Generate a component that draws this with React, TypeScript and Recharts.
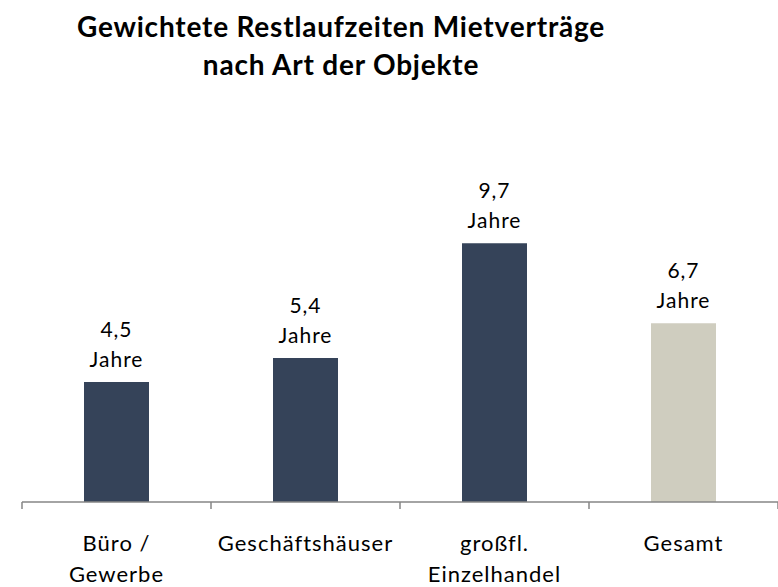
import { BarChart, Bar, XAxis, YAxis, Cell, LabelList } from "recharts";

const categories = ["Büro /\nGewerbe", "Geschäftshäuser", "großfl.\nEinzelhandel", "Gesamt"];
const years = [4.5, 5.4, 9.7, 6.7];
const unit = "Jahre";
const title = ["Gewichtete Restlaufzeiten Mietverträge", "nach Art der Objekte"];

const data = categories.map((name, i) => ({ name, value: years[i] }));

const barColors = ["#354359", "#354359", "#354359", "#CFCDBF"];
const FONT = "Lato, 'Open Sans', sans-serif";
const W = 778;
const H = 587;
const LEFT = 22;
const BAND = (W - LEFT) / categories.length;

const ValueLabel = (props: any) => {
  const { x, y, width, value } = props;
  const cx = x + width / 2;
  return (
    <text x={cx} textAnchor="middle" fontFamily={FONT} fontSize={21} letterSpacing={1} fill="#000">
      <tspan x={cx} y={y - 45}>{String(value.toFixed(1)).replace(".", ",")}</tspan>
      <tspan x={cx} y={y - 15}>{unit}</tspan>
    </text>
  );
};

const CategoryTick = (props: any) => {
  const { x, y, payload, index } = props;
  const lines = String(payload.value).split("\n");
  const left = x - BAND / 2;
  return (
    <g>
      <line x1={left} x2={left} y1={y} y2={y + 7} stroke="#868686" strokeWidth={1.5} />
      {index === categories.length - 1 && (
        <line x1={x + BAND / 2} x2={x + BAND / 2} y1={y} y2={y + 7} stroke="#868686" strokeWidth={1.5} />
      )}
      <text textAnchor="middle" fontFamily={FONT} fontSize={22} letterSpacing={1} fill="#000">
        {lines.map((l, i) => (
          <tspan key={i} x={x} y={y + 49 + i * 31}>{l}</tspan>
        ))}
      </text>
    </g>
  );
};

export default function App() {
  return (
    <div style={{ position: "absolute", left: 0, top: 0, width: W, height: H, background: "#fff" }}>
      <div
        style={{
          position: "absolute",
          left: 0,
          top: 7,
          width: 682,
          textAlign: "center",
          fontFamily: FONT,
          fontWeight: 700,
          fontSize: 28,
          letterSpacing: 0.8,
          lineHeight: "38px",
          color: "#000",
        }}
      >
        {title.map((t) => (
          <div key={t}>{t}</div>
        ))}
      </div>
      <BarChart width={W} height={H} data={data} margin={{ top: 182, right: 0, left: LEFT, bottom: 0 }}>
        <YAxis hide domain={[0, 12]} />
        <XAxis
          dataKey="name"
          interval={0}
          height={85}
          tickLine={false}
          tickSize={0}
          tickMargin={0}
          axisLine={{ stroke: "#868686", strokeWidth: 1.5 }}
          tick={<CategoryTick />}
        />
        <Bar dataKey="value" barSize={65} isAnimationActive={false}>
          {data.map((d, i) => (
            <Cell key={d.name} fill={barColors[i]} />
          ))}
          <LabelList dataKey="value" content={<ValueLabel />} />
        </Bar>
      </BarChart>
    </div>
  );
}
